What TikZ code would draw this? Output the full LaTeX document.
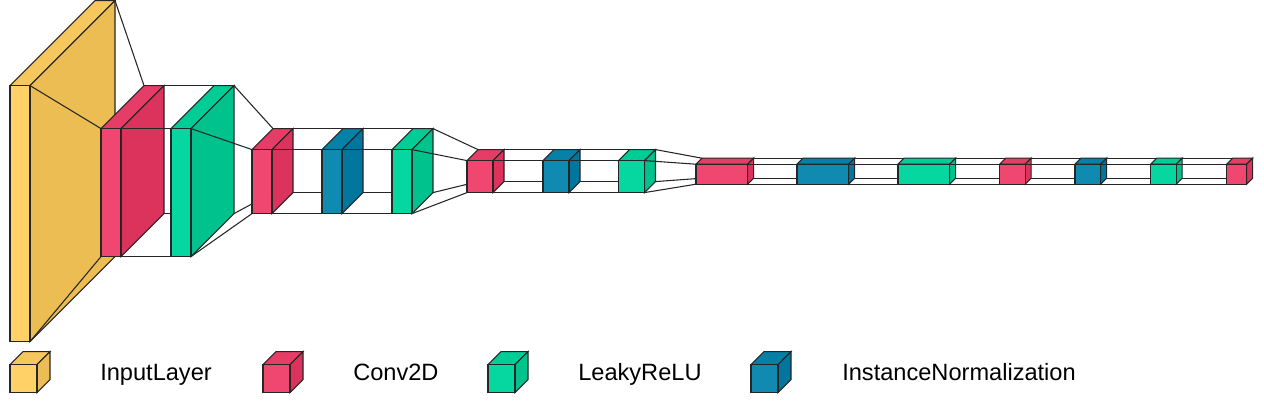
\documentclass[tikz,border=0pt]{standalone}
\usepackage{fontspec}
\setmainfont{Liberation Sans}
\usetikzlibrary{calc}

\definecolor{inputfront}{HTML}{FFD166}
\definecolor{inputtop}{HTML}{F5C75C}
\definecolor{inputside}{HTML}{EBBD52}
\definecolor{convfront}{HTML}{EF476F}
\definecolor{convtop}{HTML}{E53D65}
\definecolor{convside}{HTML}{DB335B}
\definecolor{leakyfront}{HTML}{06D6A0}
\definecolor{leakytop}{HTML}{00CC96}
\definecolor{leakyside}{HTML}{00C28C}
\definecolor{normfront}{HTML}{118AB2}
\definecolor{normtop}{HTML}{0780A8}
\definecolor{normside}{HTML}{00769E}

\tikzset{
  shell/.style={anchor=north west, inner sep=0pt, outer sep=0pt},
  edge/.style={draw=black!85, line width=0.8pt},
  legendtext/.style={anchor=base west, inner sep=0pt, font=\fontsize{17.7}{18}\selectfont}
}

% name, previous layer, kind, x, y, w, h, depth (all in pixels)
\newcommand{\layerbox}[8]{
  \node[shell, minimum width=#6*0.75pt, minimum height=#7*0.75pt] (#1) at (#4,#5) {};
  \coordinate (#1-tl) at ($(#1.north west)+(#8,-#8)$);
  \coordinate (#1-tr) at ($(#1.north east)+(#8,-#8)$);
  \coordinate (#1-bl) at ($(#1.south west)+(#8,-#8)$);
  \coordinate (#1-br) at ($(#1.south east)+(#8,-#8)$);
  \if\relax\detokenize{#2}\relax\else
    \draw[edge] (#2.north east) -- (#1.north west);
    \draw[edge] (#2.south east) -- (#1.south west);
    \draw[edge] (#2-tr) -- (#1-tl);
    \draw[edge] (#2-br) -- (#1-bl);
  \fi
  \filldraw[edge, fill=#3top] (#1.north west) -- (#1-tl) -- (#1-tr) -- (#1.north east) -- cycle;
  \filldraw[edge, fill=#3side] (#1.north east) -- (#1-tr) -- (#1-br) -- (#1.south east) -- cycle;
  \filldraw[edge, fill=#3front] (#1.north west) rectangle (#1.south east);
}

\begin{document}
\begin{tikzpicture}[x=0.75pt, y=-0.75pt]
\useasboundingbox (0,-0.6) rectangle (1264,401.4);

\layerbox{input}{}{input}{10}{85}{20}{256}{85}
\layerbox{conva}{input}{conv}{101}{128}{20}{128}{43}
\layerbox{leakya}{conva}{leaky}{171}{128}{20}{128}{43}

\layerbox{convb}{leakya}{conv}{252}{149}{20}{64}{21}
\layerbox{normb}{convb}{norm}{322}{149}{20}{64}{21}
\layerbox{leakyb}{normb}{leaky}{392}{149}{20}{64}{21}

\layerbox{convc}{leakyb}{conv}{467}{160}{26}{32}{11}
\layerbox{normc}{convc}{norm}{543}{160}{26}{32}{11}
\layerbox{leakyc}{normc}{leaky}{618.5}{160}{26}{32}{11}

\layerbox{convd}{leakyc}{conv}{696}{163.6}{51.6}{20}{6}
\layerbox{normd}{convd}{norm}{797}{163.6}{51.6}{20}{6}
\layerbox{leakyd}{normd}{leaky}{898}{163.6}{51.6}{20}{6}

\layerbox{conve}{leakyd}{conv}{999.6}{163.6}{25.6}{20}{6}
\layerbox{norme}{conve}{norm}{1075}{163.6}{25.6}{20}{6}
\layerbox{leakye}{norme}{leaky}{1150.6}{163.6}{25.6}{20}{6}
\layerbox{convf}{leakye}{conv}{1226.6}{163.6}{20}{20}{6}

% legend
\layerbox{keyinput}{}{input}{10}{364}{27}{28}{13}
\node[legendtext] (labelinput) at (100,379.6) {InputLayer};
\layerbox{keyconv}{}{conv}{263}{364}{27}{28}{13}
\node[legendtext] (labelconv) at (353,379.6) {Conv2D};
\layerbox{keyleaky}{}{leaky}{488}{364}{27}{28}{13}
\node[legendtext] (labelleaky) at (578,379.6) {LeakyReLU};
\layerbox{keynorm}{}{norm}{751}{364}{27}{28}{13}
\node[legendtext] (labelnorm) at (842,379.6) {InstanceNormalization};

\end{tikzpicture}
\end{document}
